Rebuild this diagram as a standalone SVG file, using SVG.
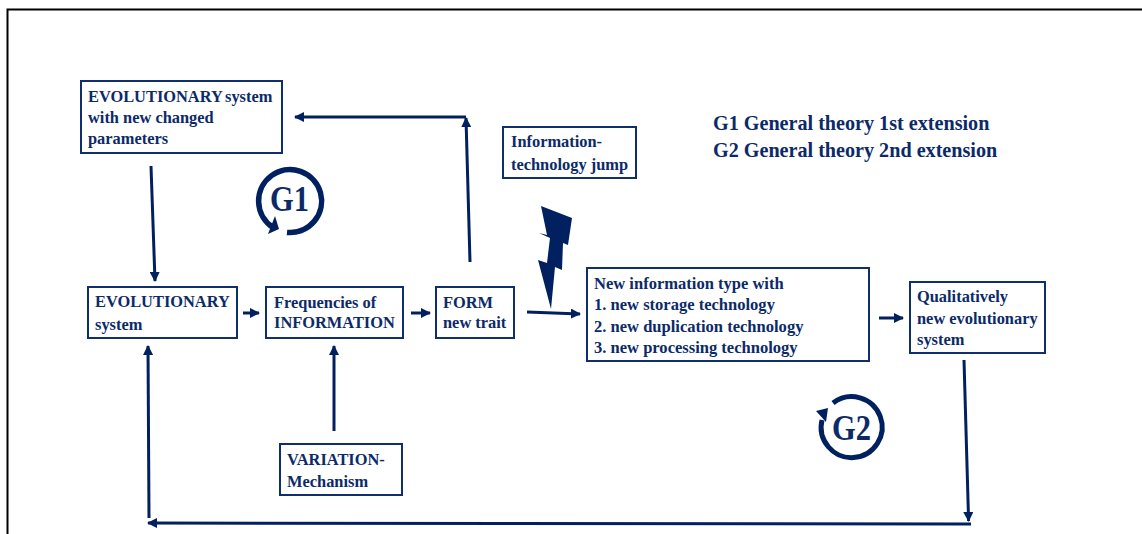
<svg xmlns="http://www.w3.org/2000/svg" width="1142" height="534" viewBox="0 0 1142 534">
<style>
.b{fill:#fff;stroke:#0f2f6c;stroke-width:2}
text{font-family:"Liberation Serif",serif;font-weight:bold;fill:#0c2a68;font-size:16.4px}
.w{font-size:16.55px}
.l{font-size:20.15px}
.e{font-size:35px}
.c{fill:none;stroke:#002060;stroke-width:3}
.h{fill:#002060}
</style>
<defs><marker id="a" viewBox="0 0 10 10" refX="9" refY="5" markerWidth="3.400" markerHeight="3.400" orient="auto" markerUnits="strokeWidth"><path d="M0 0L10 5L0 10z" fill="#002060"/></marker></defs>
<rect width="1142" height="534" fill="#fff"/>
<path d="M7.500 534V9.500H1142" fill="none" stroke="#000" stroke-width="2"/>
<g id="connectors">
<path class="c" d="M151 166L155 281" marker-end="url(#a)"/>
<path class="c" d="M470 262L466 118" marker-end="url(#a)"/>
<path class="c" d="M466 117H295" marker-end="url(#a)"/>
<path class="c" d="M243 313H259" marker-end="url(#a)"/>
<path class="c" d="M411 313H430" marker-end="url(#a)"/>
<path class="c" d="M334 431V346" marker-end="url(#a)"/>
<path class="c" d="M527 312L580 314" marker-end="url(#a)"/>
<path class="c" d="M879 318H903" marker-end="url(#a)"/>
<path class="c" d="M964 360L968.600 521" marker-end="url(#a)"/>
<path class="c" d="M971 524L148 523" marker-end="url(#a)"/>
<path class="c" d="M149 518L148 346" marker-end="url(#a)"/>
</g>
<g id="n1"><rect class="b" x="81" y="81" width="201" height="72"/><text x="88" y="102">EVOLUTIONARY</text><text x="225" y="102">system</text><text x="88" y="123">with new changed</text><text x="88" y="144">parameters</text></g>
<g id="n2"><rect class="b" x="88" y="287" width="149" height="51"/><text x="95" y="307">EVOLUTIONARY</text><text x="95" y="330">system</text></g>
<g id="n3"><rect class="b" x="266" y="287" width="137" height="51"/><text x="274" y="308">Frequencies of</text><text x="274" y="328">INFORMATION</text></g>
<g id="n4"><rect class="b" x="436" y="287" width="78" height="51"/><text x="443" y="308">FORM</text><text x="443" y="328">new trait</text></g>
<g id="n5"><rect class="b" x="280" y="444" width="122" height="51"/><text x="287" y="465">VARIATION-</text><text x="287" y="487">Mechanism</text></g>
<g id="n6"><rect class="b" x="503" y="127" width="133" height="51"/><text x="511" y="147">Information-</text><text x="511" y="170">technology jump</text></g>
<g id="n7"><rect class="b" x="587" y="268" width="282" height="93"/><text class="w" x="594" y="289">New information type with</text><text class="w" x="594" y="310">1.  new storage technology</text><text class="w" x="594" y="332">2. new duplication technology</text><text class="w" x="594" y="353">3. new processing technology</text></g>
<g id="n8"><rect class="b" x="910" y="282" width="135" height="71"/><text x="917" y="302">Qualitatively</text><text x="917" y="324">new evolutionary</text><text x="917" y="345">system</text></g>
<g id="legend"><text class="l" x="713" y="130">G1 General theory 1st extension</text><text class="l" x="713" y="157">G2 General theory 2nd extension</text></g>
<g id="bolt"><path class="h" d="M541 206L572 218L568 245L563 243L562 270L555 267L551 309L538 260L547 263L550 238L539 233L547 235z"/></g>
<g id="g1"><path d="M287 232.400A31.500 31.500 0 1 0 273 227.500" fill="none" stroke="#002060" stroke-width="5.500"/><path class="h" d="M268 234L275 216L279 229z"/><text class="e" x="270" y="211" textLength="39" lengthAdjust="spacingAndGlyphs">G1</text></g>
<g id="g2"><path d="M833 403A30.500 30.500 0 1 1 822 420" fill="none" stroke="#002060" stroke-width="5"/><path class="h" d="M816 411L828 408L826 422z"/><text class="e" x="832" y="440" textLength="39" lengthAdjust="spacingAndGlyphs">G2</text></g>
</svg>
